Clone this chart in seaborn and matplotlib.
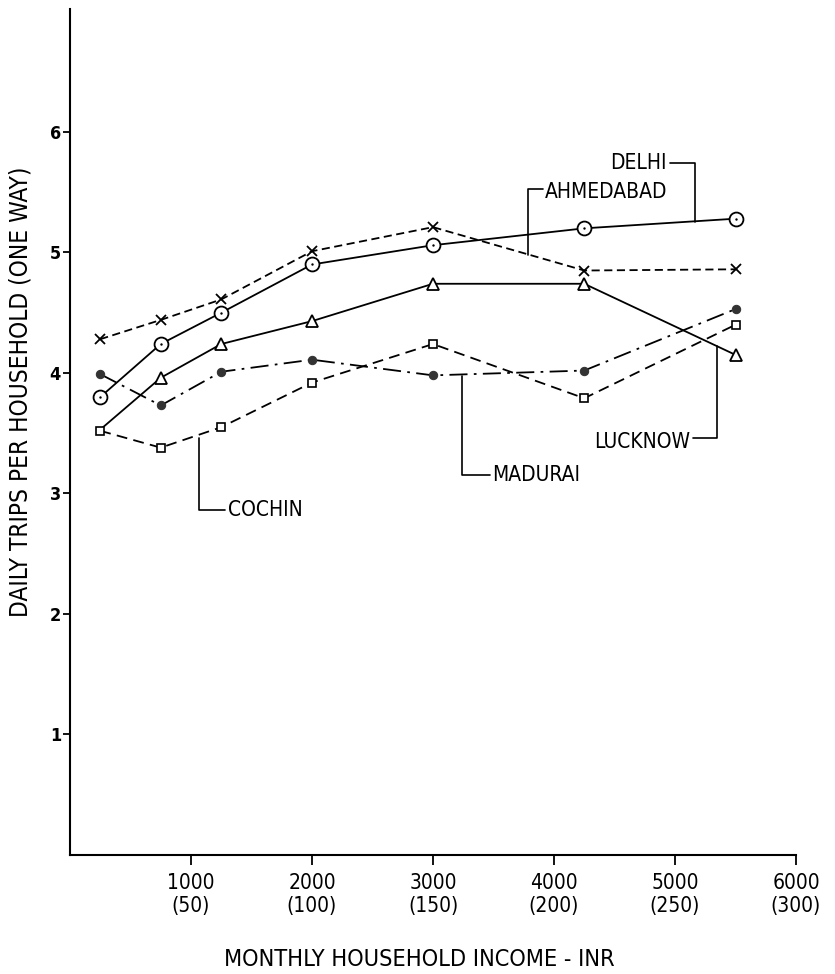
import pandas as pd
import seaborn as sns
import matplotlib.pyplot as plt
from matplotlib import font_manager as fm

# income class midpoints, INR per month
income = [250, 750, 1250, 2000, 3000, 4250, 5500]

# daily trips per household (one way)
delhi = [3.80, 4.24, 4.50, 4.90, 5.06, 5.20, 5.28]
ahmedabad = [4.28, 4.44, 4.61, 5.01, 5.21, 4.85, 4.86]
lucknow = [3.53, 3.96, 4.24, 4.43, 4.74, 4.74, 4.15]
madurai = [3.99, 3.73, 4.01, 4.11, 3.98, 4.02, 4.53]
cochin = [3.52, 3.38, 3.55, 3.92, 4.24, 3.79, 4.40]

x_ticks = [1000, 2000, 3000, 4000, 5000, 6000]
x_tick_labels = ['1000\n(50)', '2000\n(100)', '3000\n(150)',
                 '4000\n(200)', '5000\n(250)', '6000\n(300)']
y_ticks = [1, 2, 3, 4, 5, 6]

sns.set_style('ticks')
plt.rcParams['font.family'] = ['DejaVu Sans']
for key in ['text.color', 'axes.labelcolor', 'xtick.color', 'ytick.color']:
    plt.rcParams[key] = 'black'

# look for a narrow / condensed face, the original lettering is condensed
narrow_file = None
cands = []
for f in fm.fontManager.ttflist:
    nm = f.name.lower()
    if f.style != 'normal':
        continue
    if 'narrow' in nm or 'condensed' in nm or 'condensed' in str(f.stretch):
        cands.append(f)
    elif 'condensed' in f.fname.lower() or 'narrow' in f.fname.lower():
        cands.append(f)
cands.sort(key=lambda f: (abs(int(f.weight) - 400) if str(f.weight).isdigit() else 100,
                          'mono' in f.name.lower() or 'serif' in f.fname.lower()))
if cands:
    narrow_file = cands[0].fname


def fp(size, bold=False):
    if narrow_file and not bold:
        return fm.FontProperties(fname=narrow_file, size=size)
    return fm.FontProperties(family='DejaVu Sans', size=size,
                             weight='bold' if bold else 'normal',
                             stretch='condensed')


fig = plt.figure(figsize=(8.35, 9.74), dpi=100)
ax = fig.add_axes([70 / 835, 1 - 855 / 974, 726 / 835, 846 / 974])

k = 'black'
lw = 1.3

# Ahmedabad - crosses, short dashes
sns.lineplot(x=income, y=ahmedabad, ax=ax, color=k, lw=lw,
             linestyle=(0, (4.5, 2.5)), marker='x', markersize=6.5,
             markeredgecolor=k, markeredgewidth=1.3)
# Delhi - circle with dot, solid
sns.lineplot(x=income, y=delhi, ax=ax, color=k, lw=lw, marker='o',
             markersize=10, markerfacecolor='white', markeredgecolor=k,
             markeredgewidth=1.3)
sns.scatterplot(x=income, y=delhi, ax=ax, color=k, s=3, linewidth=0, zorder=5)
# Lucknow - open triangles, solid (first point hidden under Cochin square)
sns.lineplot(x=income, y=lucknow, ax=ax, color=k, lw=lw, marker='^',
             markersize=8.5, markerfacecolor='white', markeredgecolor=k,
             markeredgewidth=1.3, markevery=[1, 2, 3, 4, 5, 6])
# Madurai - filled dots, dash-dot
sns.lineplot(x=income, y=madurai, ax=ax, color=k, lw=lw,
             linestyle=(0, (10, 3.5, 1.5, 3.5)), marker='o', markersize=6,
             markerfacecolor='#333333', markeredgecolor='#333333')
# Cochin - open squares, long dashes
sns.lineplot(x=income, y=cochin, ax=ax, color=k, lw=lw,
             linestyle=(0, (6, 3.5)), marker='s', markersize=6,
             markerfacecolor='white', markeredgecolor=k, markeredgewidth=1.2,
             zorder=4)

# city labels with leader lines
labels = [
    ('DELHI', 4934, 5.74, 'right', [4959, 5165, 5165], [5.74, 5.74, 5.25]),
    ('AHMEDABAD', 3925, 5.50, 'left', [3905, 3785, 3785], [5.53, 5.53, 4.98]),
    ('LUCKNOW', 5124, 3.43, 'right', [5149, 5347, 5347], [3.46, 3.46, 4.22]),
    ('MADURAI', 3488, 3.15, 'left', [3470, 3240, 3240], [3.15, 3.15, 3.975]),
    ('COCHIN', 1306, 2.86, 'left', [1285, 1062, 1062], [2.86, 2.86, 3.46]),
]
for txt, tx, ty, ha, px, py in labels:
    ax.text(tx, ty, txt, ha=ha, va='center', fontproperties=fp(15))
    ax.plot(px, py, color=k, lw=1.2)

ax.set_xlim(0, 6000)
ax.set_ylim(0, 7.02)
ax.set_xticks(x_ticks)
ax.set_xticklabels(x_tick_labels, fontproperties=fp(15))
ax.set_yticks(y_ticks)
ax.set_yticklabels([str(v) for v in y_ticks], fontproperties=fp(13, bold=True))
ax.tick_params(axis='x', length=7, width=1.3, pad=6, color=k)
ax.tick_params(axis='y', length=5, width=1.3, pad=1.5, color=k)

ax.set_xlabel('MONTHLY HOUSEHOLD INCOME - INR', fontproperties=fp(16.8))
ax.xaxis.set_label_coords(0.481, -0.110)
ax.set_ylabel('DAILY TRIPS PER HOUSEHOLD (ONE WAY)', fontproperties=fp(17.6))
ax.yaxis.set_label_coords(-0.051, 0.547)

sns.despine(ax=ax)
for s in ['left', 'bottom']:
    ax.spines[s].set_linewidth(1.5)
    ax.spines[s].set_color(k)

fig.savefig('out.png', dpi=100)
